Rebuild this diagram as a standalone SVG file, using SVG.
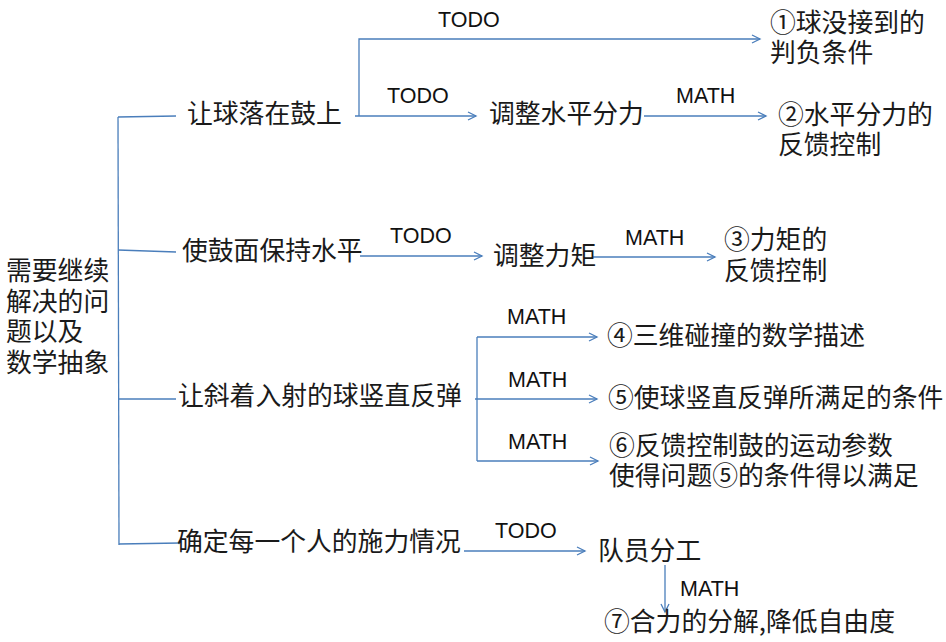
<svg xmlns="http://www.w3.org/2000/svg" width="946" height="642" viewBox="0 0 946 642">
<defs>
<style>
.t{font-family:"Noto Sans CJK SC","Noto Sans",sans-serif;font-size:25.8px;fill:#1a1a1a}
.l{font-family:"Liberation Sans",Arial,sans-serif;font-size:21.5px;fill:#111}
.c{fill:none;stroke:#4a7ebb;stroke-width:1.3}
</style>
<marker id="ah" markerWidth="12" markerHeight="12" refX="9" refY="5" orient="auto" markerUnits="userSpaceOnUse">
<path d="M1,1 L9,5 L1,9" fill="none" stroke="#4a7ebb" stroke-width="1.3"/>
</marker>
</defs>
<rect width="946" height="642" fill="#fff"/>
<g id="connectors">
<path class="c" d="M118,117 L119,545"/>
<path class="c" d="M118,117 L176,116"/>
<path class="c" d="M118,250 L176,252"/>
<path class="c" d="M118,399 L176,399"/>
<path class="c" d="M119,544 L180,543"/>
<path class="c" d="M359,116 V39 H760" marker-end="url(#ah)"/>
<path class="c" d="M355,116 H476" marker-end="url(#ah)"/>
<path class="c" d="M644,116 H766" marker-end="url(#ah)"/>
<path class="c" d="M360,256 H482" marker-end="url(#ah)"/>
<path class="c" d="M593,257 H715" marker-end="url(#ah)"/>
<path class="c" d="M477,337 V461"/>
<path class="c" d="M477,337 H597" marker-end="url(#ah)"/>
<path class="c" d="M475,399 H597" marker-end="url(#ah)"/>
<path class="c" d="M477,461 H598" marker-end="url(#ah)"/>
<path class="c" d="M464,551 H585" marker-end="url(#ah)"/>
<path class="c" d="M665,565 V612" marker-end="url(#ah)"/>
</g>
<g id="labels">
<text class="l" x="438" y="27">TODO</text>
<text class="l" x="387" y="103">TODO</text>
<text class="l" x="676" y="103">MATH</text>
<text class="l" x="390" y="243">TODO</text>
<text class="l" x="625" y="245">MATH</text>
<text class="l" x="507" y="324">MATH</text>
<text class="l" x="508" y="387">MATH</text>
<text class="l" x="508" y="449">MATH</text>
<text class="l" x="495" y="538">TODO</text>
<text class="l" x="680" y="596">MATH</text>
</g>
<g id="root">
<text class="t"><tspan x="6" y="280">需要继续</tspan><tspan x="6" y="311">解决的问</tspan><tspan x="6" y="341">题以及</tspan><tspan x="6" y="372">数学抽象</tspan></text>
</g>
<g id="n-ball-drum"><text class="t" x="187" y="123">让球落在鼓上</text></g>
<g id="n-level"><text class="t" x="182" y="260">使鼓面保持水平</text></g>
<g id="n-bounce"><text class="t" x="178" y="405">让斜着入射的球竖直反弹</text></g>
<g id="n-force"><text class="t" x="177" y="551">确定每一个人的施力情况</text></g>
<g id="n-1"><text class="t"><tspan x="770" y="32">①球没接到的</tspan><tspan x="770" y="62">判负条件</tspan></text></g>
<g id="n-hforce"><text class="t" x="489" y="123">调整水平分力</text></g>
<g id="n-2"><text class="t"><tspan x="778" y="124">②水平分力的</tspan><tspan x="778" y="154">反馈控制</tspan></text></g>
<g id="n-torque"><text class="t" x="493" y="265">调整力矩</text></g>
<g id="n-3"><text class="t"><tspan x="724" y="249">③力矩的</tspan><tspan x="724" y="280">反馈控制</tspan></text></g>
<g id="n-4"><text class="t" x="607" y="345">④三维碰撞的数学描述</text></g>
<g id="n-5"><text class="t" x="608" y="407">⑤使球竖直反弹所满足的条件</text></g>
<g id="n-6"><text class="t"><tspan x="609" y="455">⑥反馈控制鼓的运动参数</tspan><tspan x="609" y="485">使得问题⑤的条件得以满足</tspan></text></g>
<g id="n-team"><text class="t" x="598" y="560">队员分工</text></g>
<g id="n-7"><text class="t" x="604" y="631">⑦合力的分解,降低自由度</text></g>
</svg>
